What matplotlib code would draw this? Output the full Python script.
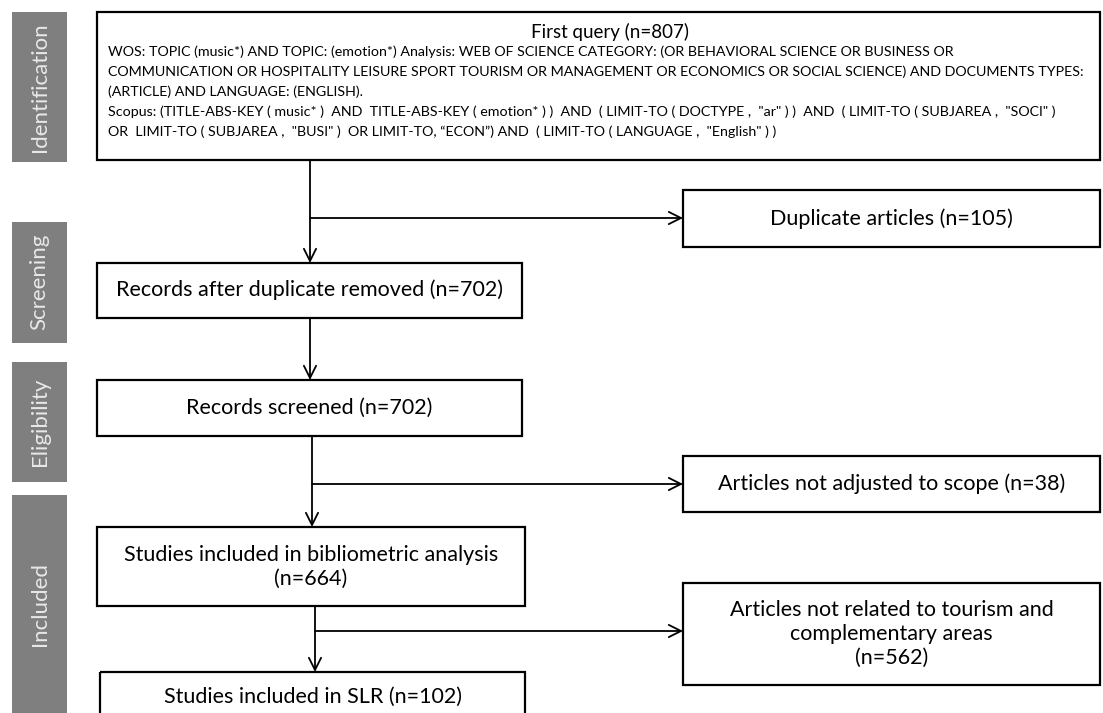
import matplotlib.pyplot as plt
from matplotlib.patches import Rectangle, FancyArrowPatch

# stage labels shown on the grey side bars
stages = ['Identification', 'Screening', 'Eligibility', 'Included']

# flow-box texts
query_title = 'First query (n=807)'
query_lines = [
    'WOS: TOPIC (music*) AND TOPIC: (emotion*) Analysis: WEB OF SCIENCE CATEGORY: (OR BEHAVIORAL SCIENCE OR BUSINESS OR',
    'COMMUNICATION OR HOSPITALITY LEISURE SPORT TOURISM OR MANAGEMENT OR ECONOMICS OR SOCIAL SCIENCE) AND DOCUMENTS TYPES:',
    '(ARTICLE) AND LANGUAGE: (ENGLISH).',
    'Scopus: (TITLE-ABS-KEY ( music* )  AND  TITLE-ABS-KEY ( emotion* ) )  AND  ( LIMIT-TO ( DOCTYPE ,  "ar" ) )  AND  ( LIMIT-TO ( SUBJAREA ,  "SOCI" )',
    'OR  LIMIT-TO ( SUBJAREA ,  "BUSI" )  OR LIMIT-TO, \u201cECON\u201d) AND  ( LIMIT-TO ( LANGUAGE ,  "English" ) )',
]
main_boxes = [
    'Records after duplicate removed (n=702)',
    'Records screened (n=702)',
    'Studies included in bibliometric analysis\n(n=664)',
    'Studies included in SLR (n=102)',
]
side_boxes = [
    'Duplicate articles (n=105)',
    'Articles not adjusted to scope (n=38)',
    'Articles not related to tourism and\ncomplementary areas\n(n=562)',
]

# layout in pixel units (x0, y0, x1, y1), y grows downwards
stage_pos = [(12, 12, 67, 162), (12, 222, 67, 343), (12, 362, 67, 482), (12, 495, 67, 720)]
stage_cy = [87, 282, 422, 604]
query_pos = (97, 12, 1100, 160)
main_pos = [(97, 263, 522, 318), (97, 380, 522, 436), (97, 527, 525, 606), (100, 672, 525, 730)]
main_cy = [290, 408, 567, 697]
side_pos = [(683, 190, 1100, 247), (683, 456, 1100, 512), (683, 583, 1100, 685)]
branch_y = [218, 484, 631]
trunk_x = [310, 310, 312, 315]

FONT = 'Lato'
GREY = '#7f7f7f'

fig = plt.figure(figsize=(11.03, 7.13), dpi=100)
ax = fig.add_axes([0, 0, 1, 1])
ax.set_xlim(0, 1103)
ax.set_ylim(713, 0)
ax.axis('off')


def box(x0, y0, x1, y1):
    ax.add_patch(Rectangle((x0, y0), x1 - x0, y1 - y0, fill=False,
                           edgecolor='black', linewidth=1.6, zorder=2))


def arrow(p0, p1):
    ax.add_patch(FancyArrowPatch(p0, p1, arrowstyle='->', mutation_scale=22,
                                 color='black', linewidth=1.3, shrinkA=0, shrinkB=0))


# grey stage bars
for label, (x0, y0, x1, y1), cy in zip(stages, stage_pos, stage_cy):
    ax.add_patch(Rectangle((x0, y0), x1 - x0, y1 - y0, color=GREY, linewidth=0))
    ax.text((x0 + x1) / 2, cy, label, rotation=90, ha='center', va='center',
            color='#e8e8e8', fontsize=16, family=FONT)

# top query box
box(*query_pos)
ax.text(610, 32, query_title, ha='center', va='center', fontsize=13.5, family=FONT)
for i, line in enumerate(query_lines):
    ax.text(108, 52 + 20 * i, line, ha='left', va='center', fontsize=10.3, family=FONT)

# main column
for txt, (x0, y0, x1, y1), cy in zip(main_boxes, main_pos, main_cy):
    box(x0, y0, x1, y1)
    ax.text((x0 + x1) / 2, cy, txt, ha='center', va='center', fontsize=15.5,
            family=FONT, linespacing=1.25)

# exclusion boxes
for txt, (x0, y0, x1, y1) in zip(side_boxes, side_pos):
    box(x0, y0, x1, y1)
    ax.text((x0 + x1) / 2, (y0 + y1) / 2, txt, ha='center', va='center',
            fontsize=15.5, family=FONT, linespacing=1.25)

# trunk arrows between the main column boxes
tops = [query_pos[3]] + [p[3] for p in main_pos[:-1]]
for x, y_from, nxt in zip(trunk_x, tops, main_pos):
    arrow((x, y_from), (x, nxt[1]))

# branches to the exclusion boxes
for x, y, sp in zip([310, 312, 315], branch_y, side_pos):
    arrow((x, y), (sp[0], y))

fig.savefig('out.png', dpi=100)
